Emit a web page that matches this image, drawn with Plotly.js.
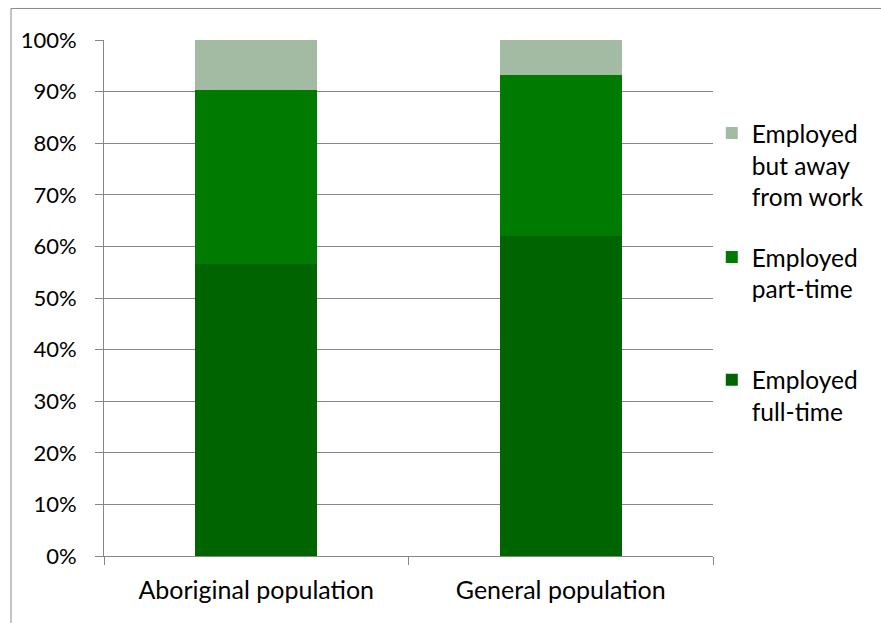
<!DOCTYPE html>
<html>
<head>
<meta charset="utf-8">
<script src="https://cdn.plot.ly/plotly-3.0.1.min.js"></script>
<style>html,body{margin:0;padding:0;background:#fff;}#chart{width:881px;height:623px;}</style>
</head>
<body>
<div id="chart"></div>
<script>
var categories = ["Aboriginal population", "General population"];
var fullTime = [0.565, 0.621];
var partTime = [0.339, 0.311];
var awayFromWork = [0.096, 0.068];
var seriesNames = ["Employed<br>full-time", "Employed<br>part-time", "Employed<br>but away<br>from work"];
var yTickVals = [0, 0.1, 0.2, 0.3, 0.4, 0.5, 0.6, 0.7, 0.8, 0.9, 1.0];

var family = "Lato, 'Open Sans', sans-serif";
var yFont = {family: family, size: 22, color: "#000"};
var xFont = {family: family, size: 25, color: "#000"};
var legFont = {family: family, size: 24.5, color: "#000"};

var traces = [
  {type: "bar", x: categories, y: fullTime, name: seriesNames[0], marker: {color: "#006400"}, legend: "legend3", hoverinfo: "none"},
  {type: "bar", x: categories, y: partTime, name: seriesNames[1], marker: {color: "#007a00"}, legend: "legend2", hoverinfo: "none"},
  {type: "bar", x: categories, y: awayFromWork, name: seriesNames[2], marker: {color: "#a3bba3"}, legend: "legend", hoverinfo: "none"}
];

var legendBase = {xanchor: "left", yanchor: "top", x: 0.998, font: legFont, bgcolor: "rgba(0,0,0,0)", valign: "top", itemclick: false, itemdoubleclick: false};

var layout = {
  width: 881, height: 623,
  margin: {l: 104, r: 168, t: 40, b: 67},
  paper_bgcolor: "#fff", plot_bgcolor: "#fff",
  font: yFont,
  barmode: "stack",
  bargap: 0.6,
  showlegend: true,
  legend: Object.assign({}, legendBase, {y: 0.863}),
  legend2: Object.assign({}, legendBase, {y: 0.623}),
  legend3: Object.assign({}, legendBase, {y: 0.385}),
  xaxis: {
    type: "category", tickson: "boundaries", ticks: "outside", ticklen: 8, tickcolor: "#868686",
    showline: true, linecolor: "#868686", linewidth: 1, showgrid: false, zeroline: false,
    tickfont: xFont, fixedrange: true, ticklabelstandoff: 12
  },
  yaxis: {
    range: [0, 1], tickvals: yTickVals, tickformat: ".0%", ticks: "outside", ticklen: 8, tickcolor: "#868686",
    showline: true, linecolor: "#868686", linewidth: 1, showgrid: true, gridcolor: "#868686", gridwidth: 1,
    zeroline: false, tickfont: yFont, fixedrange: true, ticklabelstandoff: 14
  },
  shapes: [{
    type: "rect", xref: "paper", yref: "paper",
    x0: -0.1527, x1: 1.3, y0: -0.2, y1: 1.0611,
    line: {color: "#878787", width: 1}, layer: "below"
  }]
};

Plotly.newPlot("chart", traces, layout, {displayModeBar: false, staticPlot: true});
</script>
</body>
</html>
